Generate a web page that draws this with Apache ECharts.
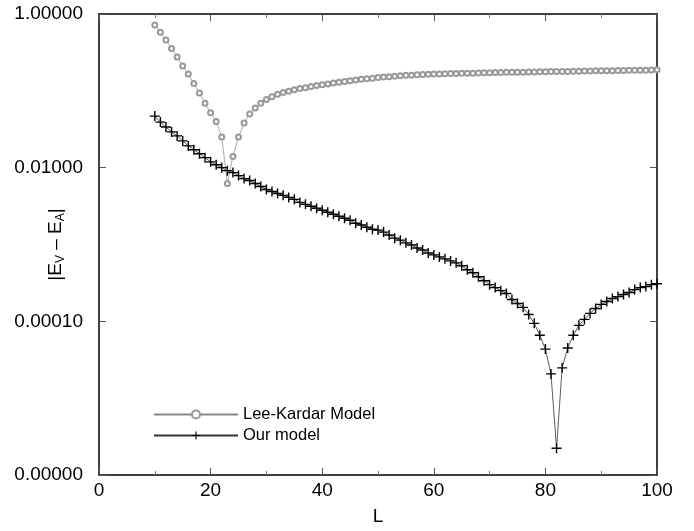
<!DOCTYPE html>
<html>
<head>
<meta charset="utf-8">
<script src="https://cdn.jsdelivr.net/npm/echarts@6/dist/echarts.min.js"></script>
<style>
  html, body { margin: 0; padding: 0; background: #fff; }
  #chart { width: 694px; height: 531px; }
</style>
</head>
<body>
<div id="chart"></div>
<script>
// System sizes L
const sizes = [];
for (let L = 10; L <= 100; L++) sizes.push(L);

// |E_V - E_A| for the Lee-Kardar model, L = 10..100
const leeKardar = [
  0.72, 0.58, 0.46, 0.355, 0.275, 0.21, 0.165, 0.125, 0.094, 0.069,
  0.052, 0.040, 0.025, 0.0062, 0.014, 0.025, 0.038, 0.050, 0.060, 0.069,
  0.077, 0.084, 0.090, 0.095, 0.099, 0.103, 0.107, 0.110, 0.114, 0.117,
  0.120, 0.123, 0.126, 0.129, 0.132, 0.135, 0.138, 0.141, 0.144, 0.146,
  0.149, 0.151, 0.153, 0.155, 0.157, 0.159, 0.160, 0.162, 0.163, 0.164,
  0.165, 0.166, 0.167, 0.168, 0.168, 0.169, 0.170, 0.170, 0.171, 0.172,
  0.172, 0.173, 0.173, 0.174, 0.174, 0.175, 0.175, 0.176, 0.176, 0.177,
  0.177, 0.178, 0.178, 0.179, 0.179, 0.180, 0.180, 0.181, 0.181, 0.182,
  0.182, 0.183, 0.183, 0.184, 0.184, 0.185, 0.185, 0.186, 0.186, 0.187,
  0.188
];

// |E_V - E_A| for our model, L = 10..100
const ourModel = [
  0.0469, 0.0392, 0.0338, 0.0292, 0.0259, 0.0223, 0.0192, 0.0171, 0.0152, 0.0135,
  0.0119, 0.0109, 0.0100, 0.00915, 0.00862, 0.00788, 0.00721, 0.00680, 0.00622, 0.00569,
  0.00520, 0.00490, 0.00462, 0.00436, 0.00410, 0.00387, 0.00353, 0.00333, 0.00314, 0.00296,
  0.00279, 0.00263, 0.00248, 0.00233, 0.00220, 0.00207, 0.00189, 0.00179, 0.00168, 0.00158,
  0.00154, 0.00145, 0.00133, 0.00121, 0.00114, 0.00105, 0.000986, 0.000902, 0.000849, 0.000776,
  0.000732, 0.000690, 0.000650, 0.000612, 0.000577, 0.000528, 0.000469, 0.000429, 0.000381, 0.000338,
  0.000300, 0.000275, 0.000251, 0.000230, 0.000192, 0.000171, 0.000152, 0.000123, 0.0000942, 0.0000659,
  0.0000435, 0.0000207, 0.00000223, 0.0000248, 0.0000449, 0.0000659, 0.0000887, 0.000106, 0.000127, 0.000147,
  0.000166, 0.000181, 0.000198, 0.000210, 0.000223, 0.000237, 0.000259, 0.000275, 0.000283, 0.000300,
  0.000309
];

const seriesNames = ['Lee-Kardar Model', 'Our model'];

const FONT = '"Liberation Sans", Arial, Helvetica, sans-serif';
// "+" marker outline
const plus = 'path://M4.3,0L5.7,0L5.7,4.3L10,4.3L10,5.7L5.7,5.7L5.7,10L4.3,10L4.3,5.7L0,5.7L0,4.3L4.3,4.3Z';

const pairs = (ys) => sizes.map((L, i) => [L, ys[i]]);

const xAxisBase = {
  type: 'value', min: 0, max: 100, interval: 20,
  axisLine: { show: true, onZero: false, lineStyle: { color: '#000', width: 1.5 } },
  axisTick: { show: true, inside: true, length: 7, lineStyle: { color: '#555', width: 1 } },
  minorTick: { show: true, splitNumber: 2, length: 4, lineStyle: { color: '#777', width: 1 } },
  splitLine: { show: false },
  minorSplitLine: { show: false }
};

const yAxisBase = {
  type: 'log', logBase: 10, min: 1e-6, max: 1, interval: 2,
  axisLine: { show: true, onZero: false, lineStyle: { color: '#000', width: 1.5 } },
  axisTick: { show: true, inside: true, length: 7, lineStyle: { color: '#555', width: 1 } },
  splitLine: { show: false }
};

const chart = echarts.init(document.getElementById('chart'), null, { renderer: 'canvas' });

chart.setOption({
  backgroundColor: '#fff',
  animation: false,
  grid: { left: 99, right: 37, top: 14, bottom: 52, containLabel: false },
  legend: {
    orient: 'vertical',
    left: 148, top: 401,
    itemWidth: 84, itemHeight: 10, itemGap: 4,
    textStyle: { fontFamily: FONT, fontSize: 16.5, color: '#000' },
    data: seriesNames
  },
  xAxis: [
    Object.assign({}, xAxisBase, {
      position: 'bottom',
      name: 'L', nameLocation: 'middle', nameGap: 32, nameMoveOverlap: false,
      nameTextStyle: { fontFamily: FONT, fontSize: 19, color: '#000' },
      axisLabel: { show: true, margin: 6, fontFamily: FONT, fontSize: 19, color: '#000' }
    }),
    Object.assign({}, xAxisBase, {
      position: 'top',
      axisLabel: { show: false }
    })
  ],
  yAxis: [
    Object.assign({}, yAxisBase, {
      position: 'left',
      name: '{m||E}{s|V}{m| – E}{s|A}{m||}',
      nameLocation: 'middle', nameGap: 32, nameRotate: 90, nameMoveOverlap: false,
      nameTextStyle: {
        fontFamily: FONT, color: '#000',
        rich: {
          m: { fontFamily: FONT, fontSize: 19, color: '#000', lineHeight: 22, verticalAlign: 'middle' },
          s: { fontFamily: FONT, fontSize: 12, color: '#000', lineHeight: 22, verticalAlign: 'bottom' }
        }
      },
      axisLabel: {
        show: true, margin: 16, fontFamily: FONT, fontSize: 19, color: '#000',
        formatter: (v) => v.toFixed(5)
      }
    }),
    Object.assign({}, yAxisBase, {
      position: 'right',
      axisLabel: { show: false }
    })
  ],
  series: [
    {
      name: seriesNames[0],
      type: 'line',
      xAxisIndex: 0, yAxisIndex: 0,
      data: pairs(leeKardar),
      symbol: 'emptyCircle', symbolSize: 5, showAllSymbol: true,
      itemStyle: { color: '#999', borderColor: '#999', borderWidth: 0.7 },
      lineStyle: { color: '#888', width: 0.7 },
      z: 2
    },
    {
      name: seriesNames[1],
      type: 'line',
      xAxisIndex: 0, yAxisIndex: 0,
      data: pairs(ourModel),
      symbol: plus, symbolSize: 10, showAllSymbol: true,
      itemStyle: { color: '#000', borderWidth: 0 },
      lineStyle: { color: '#333', width: 0.8 },
      z: 3
    }
  ]
});
</script>
</body>
</html>
